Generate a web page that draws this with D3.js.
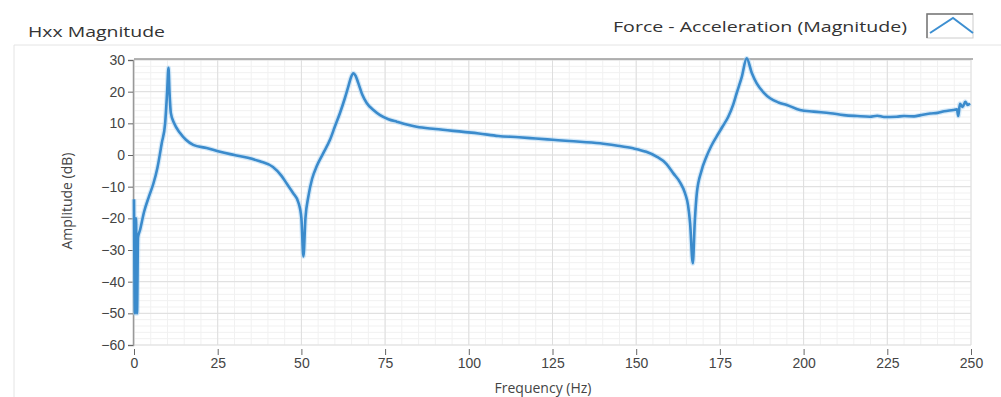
<!DOCTYPE html>
<html>
<head>
<meta charset="utf-8">
<script src="https://cdn.jsdelivr.net/npm/d3@7"></script>
<style>
  body { margin: 0; background: #fff; }
  svg { display: block; font-family: "Open Sans", "Noto Sans", sans-serif; }
  .tick text { fill: #444; font-size: 14px; }
</style>
</head>
<body>
<div id="container"></div>
<script>
var xTicks = [0, 25, 50, 75, 100, 125, 150, 175, 200, 225, 250];
var yTicks = [30, 20, 10, 0, -10, -20, -30, -40, -50, -60];

// frequency (Hz) / amplitude (dB)
var freq = [0, 0.3, 0.6, 0.9, 1.2, 1.8, 3, 4.5, 5.8, 7, 8.3, 9.3, 9.9, 10.3, 10.6, 11, 12, 13.7, 15.5, 17.7,
  21.7, 25.7, 30, 34, 37.6, 41.5, 44, 45.6, 47.5, 49.1, 50, 50.6, 51.2, 52.1, 53.2, 54.6, 56.5, 58.5, 60, 61.5, 63,
  64, 64.8, 65.5, 66.2, 67, 68.2, 69.5, 71.5, 73.5, 76, 78.5, 84.4, 90, 98.4, 103, 108.8, 115, 120, 125, 130,
  139.2, 144, 149.1, 153, 156.1, 159, 161.1, 163, 164.6, 165.5, 166.1, 166.9, 167.5, 168.1, 169.5, 171, 172.5, 174, 175.8, 177.5,
  179, 180, 181.5, 183, 184.5, 186, 188, 190, 192.5, 195, 198.9, 203, 208, 212, 216, 219.8, 222, 224, 227.8, 230,
  233, 235, 237.8, 240, 242, 244.7, 245.8, 246.2, 246.7, 247.5, 248.3, 249, 249.7];
var amp = [-14, -50, -20, -50, -26, -23.7, -18, -13, -9, -4, 3.8, 10, 20, 27.5, 20, 13.3, 10, 7, 4.8, 3.2,
  2.2, 1, 0, -0.9, -2, -3.8, -6.5, -9, -12, -15, -20, -32, -20, -13, -7.5, -3.5, 0.5, 4.7, 9, 13.2, 18,
  21.6, 24.5, 25.8, 25, 22.7, 19, 16.4, 14.2, 12.6, 11.3, 10.5, 8.9, 8.2, 7.3, 6.8, 6, 5.6, 5.2, 4.8, 4.4,
  3.7, 3, 2.1, 1, -0.5, -2.8, -5.8, -8.5, -12.1, -16, -21.6, -34.2, -21, -12.1, -5, -0.5, 3, 5.8, 9, 12.1,
  16, 19.5, 24.5, 30.5, 26, 22.6, 19.8, 17.9, 16.6, 15.8, 14.2, 13.7, 13.2, 12.6, 12.3, 12.1, 12.4, 12, 12.1, 12.3,
  12.2, 12.6, 13.1, 13.3, 13.8, 14.2, 14.4, 12.3, 16.2, 15.2, 16.8, 15.8, 16.3];

var W = 1001, H = 397;
var plotL = 134, plotR = 971, plotT = 60, plotB = 345;

var svg = d3.select('#container').append('svg')
  .attr('width', W).attr('height', H);

// panel frame
svg.append('line').attr('x1', 14).attr('x2', W).attr('y1', 45).attr('y2', 45)
  .attr('stroke', '#e4e4e4');
svg.append('line').attr('x1', 14).attr('x2', 14).attr('y1', 45).attr('y2', H)
  .attr('stroke', '#e4e4e4');

svg.append('text').attr('x', 28).attr('y', 37)
  .attr('font-size', 14).attr('fill', '#333')
  .attr('textLength', 137).attr('lengthAdjust', 'spacingAndGlyphs')
  .text('Hxx Magnitude');

svg.append('text').attr('x', 613).attr('y', 32)
  .attr('font-size', 14).attr('fill', '#333')
  .attr('textLength', 294).attr('lengthAdjust', 'spacingAndGlyphs')
  .text('Force - Acceleration (Magnitude)');

// legend icon
var lg = svg.append('g');
lg.append('rect').attr('x', 927).attr('y', 14).attr('width', 46).attr('height', 24)
  .attr('fill', '#fff').attr('stroke', '#ccc');
lg.append('path').attr('d', 'M927,38V14H973').attr('fill', 'none').attr('stroke', '#777').attr('stroke-width', 1.5);
lg.append('path').attr('d', 'M930,33L953,18L973,33').attr('fill', 'none')
  .attr('stroke', '#3d8fd1').attr('stroke-width', 2);

var x = d3.scaleLinear().domain([0, 250]).range([plotL, plotR]);
var y = d3.scaleLinear().domain([-60, 30]).range([plotB, plotT]);

// minor grid
var g = svg.append('g');
g.selectAll('.mx').data(d3.range(0, 250.1, 5)).enter().append('line')
  .attr('x1', x).attr('x2', x).attr('y1', plotT).attr('y2', plotB)
  .attr('stroke', '#f1f1f1');
g.selectAll('.my').data(d3.range(-60, 30.1, 2)).enter().append('line')
  .attr('x1', plotL).attr('x2', plotR).attr('y1', y).attr('y2', y)
  .attr('stroke', '#f1f1f1');
// major grid
g.selectAll('.gx').data(xTicks).enter().append('line')
  .attr('x1', x).attr('x2', x).attr('y1', plotT).attr('y2', plotB)
  .attr('stroke', '#dedede');
g.selectAll('.gy').data(yTicks).enter().append('line')
  .attr('x1', plotL).attr('x2', plotR).attr('y1', y).attr('y2', y)
  .attr('stroke', '#dedede');

// top border
svg.append('line').attr('x1', plotL).attr('x2', plotR + 2).attr('y1', plotT - 1).attr('y2', plotT - 1)
  .attr('stroke', '#9a9a9a').attr('stroke-width', 1.5);

// y axis
var yAxis = svg.append('g').attr('transform', 'translate(' + (plotL - 1) + ',0)')
  .call(d3.axisLeft(y).tickValues(yTicks).tickSize(5).tickPadding(3));
yAxis.select('.domain').attr('stroke', '#999').attr('stroke-width', 1.5);
yAxis.selectAll('.tick line').attr('stroke', '#666');

// x axis (ticks only)
var xAxis = svg.append('g').attr('transform', 'translate(0,' + (plotB + 4) + ')')
  .call(d3.axisBottom(x).tickValues(xTicks).tickSize(6).tickPadding(3));
xAxis.select('.domain').remove();
xAxis.selectAll('.tick line').attr('stroke', '#666');

svg.append('text').attr('transform', 'translate(72,201) rotate(-90)')
  .attr('text-anchor', 'middle').attr('font-size', 14).attr('fill', '#444')
  .text('Amplitude (dB)');

svg.append('text').attr('x', 543).attr('y', 393)
  .attr('text-anchor', 'middle').attr('font-size', 14).attr('fill', '#444')
  .text('Frequency (Hz)');

// curve
var pts = freq.map(function(f, i) { return [f, amp[i]]; });
var line = d3.line()
  .curve(d3.curveMonotoneX)
  .x(function(d) { return x(d[0]); })
  .y(function(d) { return y(d[1]); });

svg.append('path').datum(pts)
  .attr('d', line)
  .attr('fill', 'none')
  .attr('stroke', '#a9d3f3')
  .attr('stroke-width', 5)
  .attr('stroke-linejoin', 'round')
  .attr('opacity', 0.5);
svg.append('path').datum(pts)
  .attr('d', line)
  .attr('fill', 'none')
  .attr('stroke', '#3b8bcc')
  .attr('stroke-width', 2.6)
  .attr('stroke-linejoin', 'round');
</script>
</body>
</html>
